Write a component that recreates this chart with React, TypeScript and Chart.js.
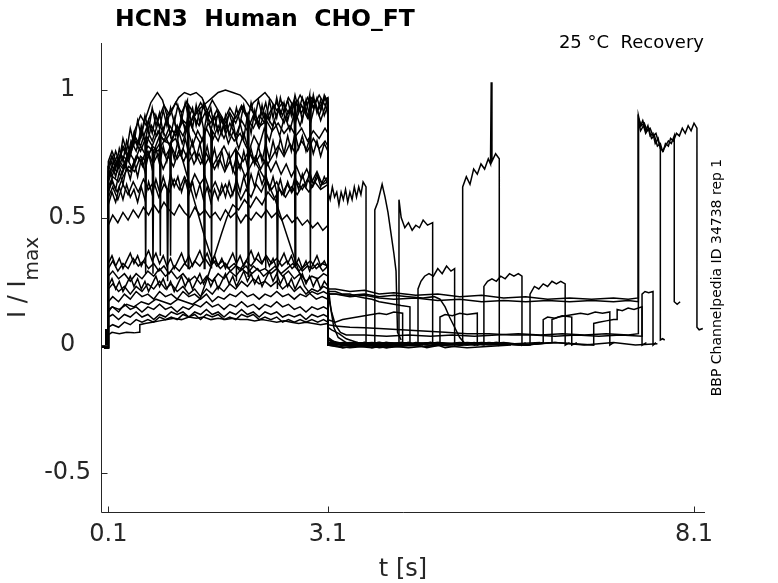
import React, { useEffect, useRef } from "react";
import { Chart, registerables } from "chart.js";

Chart.register(...registerables);

// ---- axis definitions ----
const xTicks = [0.1, 3.1, 8.1];
const yTicks = [-0.5, 0, 0.5, 1];
const xMin = 0;
const xMax = 8.25;
const yMin = -0.654;
const yMax = 1.184;

const titleText = "HCN3  Human  CHO_FT";
const noteText = "25 °C  Recovery";
const sideText = "BBP Channelpedia ID 34738 rep 1";
const xLabel = "t [s]";
const yLabelMain = "I / I";
const yLabelSub = "max";

// ---- common holding segment (t, I/Imax) ----
const holdT = [0, 0.06, 0.065, 0.07, 0.1];
const holdV = [-0.005, -0.01, 0.06, -0.01, -0.01];

// ---- sweeps: flat lists of t, I/Imax pairs ----
const sweep01 = [0.1,0.66, 0.15,0.7, 0.22,0.68, 0.3,0.74, 0.38,0.72, 0.45,0.8, 0.52,0.79, 0.6,0.88, 0.68,0.95, 0.77,0.99, 0.84,0.96, 0.9,0.9, 0.98,0.93, 1.06,0.97, 1.14,0.99, 1.22,0.98, 1.3,0.99, 1.38,0.97, 1.45,0.92, 1.52,0.88, 1.6,0.9, 1.68,0.86, 1.76,0.91, 1.84,0.87, 1.92,0.93, 2.0,0.89, 2.08,0.85, 2.16,0.9, 2.24,0.87, 2.32,0.92, 2.4,0.95, 2.48,0.9, 2.56,0.97, 2.64,0.93, 2.72,0.98, 2.8,0.94, 2.88,0.97, 2.96,0.92, 3.04,0.96, 3.1,0.97,
  3.1,0.02, 3.3,0.0, 3.5,0.01, 3.7,-0.01, 3.9,0.0, 4.1,0.01, 4.3,0.0, 4.5,0.01, 4.7,-0.01, 4.94,0.0, 4.94,0.62, 4.99,0.66, 5.04,0.63, 5.09,0.69, 5.14,0.67, 5.19,0.71, 5.24,0.69, 5.29,0.73, 5.32,0.71, 5.33,1.03, 5.34,0.72, 5.39,0.75, 5.44,0.73, 5.44,0.0, 5.5,0.01];

const sweep02 = [0.1,0.62, 0.16,0.66, 0.24,0.64, 0.32,0.7, 0.4,0.68, 0.48,0.74, 0.56,0.72, 0.64,0.78, 0.72,0.76, 0.8,0.82, 0.88,0.8, 0.96,0.84, 1.04,0.83, 1.12,0.88, 1.2,0.86, 1.28,0.9, 1.36,0.93, 1.44,0.95, 1.52,0.97, 1.6,0.99, 1.7,1.0, 1.8,0.99, 1.9,0.98, 1.97,0.96, 2.04,0.93, 2.1,0.9, 2.18,0.86, 2.26,0.88, 2.34,0.84, 2.42,0.87, 2.5,0.83, 2.58,0.86, 2.66,0.82, 2.74,0.85, 2.82,0.8, 2.9,0.84, 2.98,0.81, 3.06,0.85, 3.1,0.83,
  3.1,0.01, 3.3,0.0, 3.5,0.01, 3.7,0.0, 3.9,-0.01, 4.07,0.0, 4.07,0.57, 4.1,0.5, 4.15,0.46, 4.2,0.48, 4.25,0.45, 4.3,0.47, 4.35,0.46, 4.4,0.49, 4.46,0.47, 4.53,0.48, 4.53,0.0, 4.6,0.01];

const sweep03 = [0.1,0.68, 0.14,0.72, 0.2,0.66, 0.27,0.75, 0.34,0.7, 0.41,0.8, 0.48,0.76, 0.55,0.84, 0.62,0.78, 0.69,0.86, 0.76,0.82, 0.8,0.84, 0.81,0.35, 0.82,0.83, 0.9,0.88, 0.97,0.8, 1.04,0.86, 1.11,0.79, 1.18,0.85, 1.25,0.78, 1.32,0.84, 1.39,0.8, 1.46,0.87, 1.5,0.85, 1.51,0.3, 1.52,0.84, 1.6,0.8, 1.67,0.86, 1.74,0.79, 1.81,0.84, 1.88,0.77, 1.95,0.83, 2.02,0.76, 2.09,0.82, 2.16,0.78, 2.23,0.85, 2.3,0.8, 2.37,0.88, 2.44,0.82, 2.51,0.9, 2.58,0.84, 2.65,0.92, 2.72,0.86, 2.79,0.93, 2.86,0.87, 2.93,0.95, 3.0,0.88, 3.07,0.94, 3.1,0.9,
  3.1,0.03, 3.2,0.01, 3.4,0.0, 3.6,0.01, 3.74,0.0, 3.74,0.53, 3.78,0.56, 3.84,0.63, 3.88,0.58, 3.92,0.52, 3.96,0.44, 4.0,0.36, 4.03,0.29, 4.05,0.05, 4.1,0.02];

const sweep04 = [0.1,0.64, 0.15,0.68, 0.22,0.72, 0.29,0.67, 0.36,0.73, 0.43,0.69, 0.5,0.74, 0.57,0.7, 0.64,0.76, 0.71,0.71, 0.78,0.75, 0.85,0.69, 0.92,0.74, 0.99,0.7, 1.06,0.76, 1.13,0.72, 1.2,0.77, 1.27,0.71, 1.34,0.75, 1.41,0.7, 1.48,0.74, 1.55,0.69, 1.62,0.73, 1.69,0.68, 1.76,0.72, 1.83,0.67, 1.9,0.71, 1.97,0.66, 2.04,0.7, 2.11,0.74, 2.18,0.69, 2.25,0.73, 2.32,0.68, 2.39,0.72, 2.46,0.67, 2.53,0.71, 2.6,0.66, 2.67,0.7, 2.74,0.65, 2.81,0.69, 2.88,0.64, 2.95,0.68, 3.02,0.63, 3.1,0.66,
  3.1,0.6, 3.13,0.57, 3.16,0.62, 3.19,0.58, 3.22,0.6, 3.25,0.55, 3.28,0.6, 3.31,0.57, 3.34,0.61, 3.37,0.56, 3.4,0.6, 3.43,0.57, 3.46,0.62, 3.49,0.58, 3.52,0.62, 3.55,0.59, 3.58,0.64, 3.62,0.62, 3.62,0.0, 3.7,0.01];

const sweep05 = [0.1,0.58, 0.16,0.62, 0.23,0.57, 0.3,0.63, 0.37,0.59, 0.44,0.64, 0.51,0.6, 0.58,0.65, 0.65,0.61, 0.72,0.64, 0.79,0.58, 0.86,0.63, 0.93,0.6, 1.0,0.65, 1.07,0.61, 1.14,0.66, 1.21,0.62, 1.28,0.67, 1.35,0.63, 1.42,0.66, 1.49,0.6, 1.56,0.64, 1.63,0.59, 1.7,0.63, 1.77,0.58, 1.84,0.62, 1.91,0.57, 1.98,0.61, 2.05,0.58, 2.12,0.63, 2.19,0.6, 2.26,0.65, 2.33,0.61, 2.4,0.64, 2.47,0.59, 2.54,0.63, 2.61,0.6, 2.68,0.64, 2.75,0.61, 2.82,0.65, 2.89,0.62, 2.96,0.66, 3.03,0.63, 3.1,0.64,
  3.1,0.02, 3.3,0.0, 3.6,0.01, 3.9,0.0, 4.2,0.01, 4.33,0.0, 4.33,0.22, 4.37,0.25, 4.42,0.27, 4.48,0.28, 4.54,0.27, 4.6,0.3, 4.66,0.28, 4.72,0.31, 4.78,0.29, 4.83,0.3, 4.83,0.0, 4.9,0.01];

const sweep06 = [0.1,0.47, 0.16,0.51, 0.23,0.48, 0.3,0.52, 0.37,0.49, 0.44,0.53, 0.51,0.5, 0.58,0.54, 0.65,0.51, 0.72,0.55, 0.79,0.52, 0.86,0.56, 0.93,0.53, 1.0,0.51, 1.07,0.55, 1.14,0.52, 1.21,0.5, 1.28,0.54, 1.35,0.51, 1.42,0.53, 1.49,0.5, 1.56,0.52, 1.63,0.49, 1.7,0.53, 1.77,0.5, 1.84,0.52, 1.91,0.48, 1.98,0.51, 2.05,0.49, 2.12,0.52, 2.19,0.5, 2.26,0.53, 2.33,0.5, 2.4,0.52, 2.47,0.49, 2.54,0.51, 2.61,0.48, 2.68,0.5, 2.75,0.47, 2.82,0.49, 2.89,0.46, 2.96,0.48, 3.03,0.45, 3.1,0.47,
  3.1,0.01, 3.3,0.0, 3.6,0.01, 3.9,0.0, 4.2,0.01, 4.45,-0.01, 4.63,0.0, 4.63,0.11, 4.7,0.12, 4.8,0.115, 4.9,0.125, 5.0,0.12, 5.14,0.125, 5.14,0.0, 5.2,0.01];

const sweep07 = [0.1,0.6, 0.15,0.64, 0.22,0.6, 0.3,0.66, 0.38,0.7, 0.46,0.68, 0.54,0.74, 0.62,0.72, 0.7,0.78, 0.78,0.76, 0.86,0.8, 0.94,0.79, 1.02,0.81, 1.1,0.74, 1.18,0.66, 1.26,0.58, 1.34,0.5, 1.42,0.42, 1.5,0.35, 1.58,0.31, 1.66,0.33, 1.74,0.3, 1.82,0.32, 1.9,0.29, 1.98,0.31, 2.06,0.28, 2.14,0.3, 2.22,0.27, 2.3,0.29, 2.38,0.31, 2.46,0.28, 2.54,0.3, 2.62,0.32, 2.7,0.29, 2.78,0.31, 2.86,0.33, 2.94,0.3, 3.02,0.32, 3.1,0.31,
  3.1,0.24, 3.14,0.14, 3.18,0.07, 3.24,0.03, 3.35,0.01, 3.6,0.0, 3.9,0.01, 4.2,0.0, 4.5,0.01, 4.8,0.0, 5.1,0.01, 5.23,0.0, 5.23,0.23, 5.28,0.25, 5.34,0.26, 5.4,0.25, 5.46,0.27, 5.52,0.26, 5.58,0.28, 5.64,0.27, 5.7,0.28, 5.75,0.27, 5.75,0.0, 5.8,0.01];

const sweep08 = [0.1,0.13, 0.15,0.15, 0.25,0.14, 0.35,0.16, 0.45,0.15, 0.55,0.17, 0.65,0.16, 0.75,0.18, 0.85,0.17, 0.95,0.16, 1.05,0.18, 1.15,0.17, 1.25,0.16, 1.35,0.18, 1.45,0.26, 1.55,0.35, 1.65,0.44, 1.72,0.5, 1.8,0.55, 1.88,0.53, 1.96,0.57, 2.04,0.54, 2.12,0.58, 2.2,0.55, 2.28,0.6, 2.36,0.57, 2.44,0.61, 2.52,0.58, 2.6,0.62, 2.68,0.59, 2.76,0.63, 2.84,0.6, 2.92,0.64, 3.0,0.61, 3.1,0.63,
  3.1,0.01, 3.3,0.0, 3.7,0.01, 4.1,0.0, 4.5,0.01, 4.9,0.0, 5.3,0.01, 5.7,0.0, 5.86,0.0, 5.86,0.2, 5.92,0.23, 5.98,0.22, 6.04,0.24, 6.1,0.23, 6.16,0.25, 6.22,0.24, 6.28,0.25, 6.34,0.24, 6.34,0.0, 6.4,0.01];

const sweep09 = [0.1,0.7, 0.15,0.74, 0.22,0.7, 0.3,0.77, 0.38,0.73, 0.46,0.8, 0.54,0.76, 0.62,0.82, 0.7,0.78, 0.78,0.84, 0.86,0.8, 0.94,0.86, 1.02,0.82, 1.1,0.88, 1.18,0.84, 1.26,0.9, 1.34,0.86, 1.42,0.91, 1.5,0.87, 1.58,0.92, 1.66,0.88, 1.74,0.84, 1.82,0.8, 1.9,0.83, 1.98,0.78, 2.06,0.74, 2.14,0.7, 2.22,0.66, 2.3,0.62, 2.38,0.57, 2.46,0.5, 2.54,0.43, 2.62,0.36, 2.7,0.29, 2.78,0.23, 2.86,0.2, 2.94,0.18, 3.02,0.19, 3.1,0.18,
  3.1,0.02, 3.4,0.0, 3.8,0.01, 4.2,0.0, 4.6,0.01, 5.0,0.0, 5.4,0.01, 5.8,0.0, 6.16,0.01, 6.16,0.1, 6.25,0.11, 6.35,0.115, 6.45,0.12, 6.55,0.125, 6.65,0.12, 6.75,0.13, 6.85,0.125, 6.95,0.13, 6.95,0.0, 7.0,0.01];

const sweep10 = [0.1,0.3, 0.16,0.33, 0.23,0.29, 0.3,0.32, 0.37,0.3, 0.44,0.34, 0.51,0.31, 0.58,0.33, 0.65,0.3, 0.72,0.32, 0.79,0.29, 0.86,0.31, 0.93,0.28, 1.0,0.31, 1.07,0.29, 1.14,0.32, 1.21,0.3, 1.28,0.33, 1.35,0.31, 1.42,0.34, 1.49,0.31, 1.56,0.33, 1.63,0.3, 1.7,0.32, 1.77,0.29, 1.84,0.31, 1.91,0.3, 1.98,0.33, 2.05,0.31, 2.12,0.34, 2.19,0.32, 2.26,0.35, 2.33,0.32, 2.4,0.34, 2.47,0.31, 2.54,0.33, 2.61,0.3, 2.68,0.32, 2.75,0.29, 2.82,0.31, 2.89,0.3, 2.96,0.32, 3.03,0.29, 3.1,0.31,
  3.1,0.22, 3.2,0.22, 3.4,0.21, 3.6,0.215, 3.8,0.2, 4.0,0.205, 4.3,0.195, 4.6,0.2, 4.9,0.19, 5.2,0.195, 5.5,0.185, 5.8,0.19, 6.1,0.18, 6.4,0.185, 6.7,0.18, 7.0,0.185, 7.2,0.18, 7.34,0.185, 7.34,0.9, 7.37,0.86, 7.4,0.88, 7.44,0.84, 7.47,0.86, 7.5,0.82, 7.54,0.83, 7.57,0.79, 7.61,0.81, 7.64,0.77, 7.68,0.76, 7.71,0.79, 7.75,0.78, 7.78,0.81, 7.82,0.8, 7.86,0.83, 7.9,0.82, 7.94,0.85, 7.98,0.83, 8.02,0.86, 8.06,0.84, 8.1,0.87, 8.14,0.85, 8.14,0.07, 8.17,0.06, 8.22,0.065];

const sweep11 = [0.1,0.27, 0.16,0.29, 0.24,0.26, 0.32,0.28, 0.4,0.25, 0.48,0.28, 0.56,0.26, 0.64,0.29, 0.72,0.27, 0.8,0.3, 0.88,0.27, 0.96,0.29, 1.04,0.26, 1.12,0.28, 1.2,0.25, 1.28,0.27, 1.36,0.24, 1.44,0.27, 1.52,0.25, 1.6,0.28, 1.68,0.26, 1.76,0.29, 1.84,0.27, 1.92,0.3, 2.0,0.28, 2.08,0.31, 2.16,0.29, 2.24,0.3, 2.32,0.28, 2.4,0.3, 2.48,0.27, 2.56,0.29, 2.64,0.26, 2.72,0.28, 2.8,0.25, 2.88,0.27, 2.96,0.26, 3.04,0.28, 3.1,0.27,
  3.1,0.2, 3.2,0.2, 3.4,0.19, 3.6,0.195, 3.8,0.185, 4.0,0.18, 4.3,0.185, 4.6,0.175, 4.9,0.18, 5.2,0.17, 5.5,0.175, 5.8,0.17, 6.1,0.175, 6.4,0.17, 6.7,0.175, 7.0,0.17, 7.2,0.175, 7.34,0.17, 7.34,0.88, 7.37,0.84, 7.41,0.86, 7.44,0.83, 7.48,0.85, 7.52,0.81, 7.56,0.82, 7.6,0.78, 7.64,0.79, 7.67,0.76, 7.71,0.78, 7.75,0.8, 7.79,0.79, 7.83,0.82, 7.83,0.17, 7.87,0.16, 7.91,0.17];

const sweep12 = [0.1,0.22, 0.16,0.24, 0.24,0.21, 0.32,0.23, 0.4,0.2, 0.48,0.23, 0.56,0.21, 0.64,0.24, 0.72,0.22, 0.8,0.25, 0.88,0.22, 0.96,0.24, 1.04,0.21, 1.12,0.23, 1.2,0.2, 1.28,0.22, 1.36,0.19, 1.44,0.22, 1.52,0.2, 1.6,0.23, 1.68,0.21, 1.76,0.24, 1.84,0.22, 1.92,0.25, 2.0,0.23, 2.08,0.26, 2.16,0.24, 2.24,0.25, 2.32,0.23, 2.4,0.25, 2.48,0.22, 2.56,0.24, 2.64,0.21, 2.72,0.23, 2.8,0.2, 2.88,0.22, 2.96,0.21, 3.04,0.23, 3.1,0.22,
  3.1,0.2, 3.15,0.13, 3.2,0.08, 3.27,0.05, 3.35,0.04, 3.6,0.04, 3.9,0.035, 4.2,0.04, 4.5,0.035, 4.8,0.04, 5.1,0.035, 5.4,0.04, 5.7,0.045, 6.0,0.04, 6.3,0.045, 6.6,0.04, 6.9,0.045, 7.2,0.04, 7.34,0.045, 7.34,0.89, 7.38,0.86, 7.42,0.87, 7.46,0.84, 7.5,0.85, 7.54,0.82, 7.58,0.83, 7.61,0.8, 7.64,0.78, 7.64,0.02, 7.67,0.025, 7.7,0.02];

const sweep13 = [0.1,0.17, 0.16,0.19, 0.24,0.17, 0.32,0.2, 0.4,0.18, 0.48,0.21, 0.56,0.19, 0.64,0.2, 0.72,0.18, 0.8,0.21, 0.88,0.19, 0.96,0.2, 1.04,0.18, 1.12,0.21, 1.2,0.19, 1.28,0.2, 1.36,0.18, 1.44,0.2, 1.52,0.17, 1.6,0.19, 1.68,0.18, 1.76,0.2, 1.84,0.19, 1.92,0.21, 2.0,0.19, 2.08,0.2, 2.16,0.18, 2.24,0.2, 2.32,0.19, 2.4,0.21, 2.48,0.19, 2.56,0.2, 2.64,0.18, 2.72,0.2, 2.8,0.19, 2.88,0.21, 2.96,0.2, 3.04,0.21, 3.1,0.2,
  3.1,0.21, 3.2,0.21, 3.3,0.2, 3.4,0.2, 3.5,0.19, 3.6,0.185, 3.7,0.18, 3.8,0.17, 3.9,0.165, 4.0,0.16, 4.1,0.155, 4.22,0.15, 4.22,0.0, 4.3,0.01];

const sweep14 = [0.1,0.14, 0.16,0.15, 0.24,0.13, 0.32,0.16, 0.4,0.14, 0.48,0.15, 0.56,0.13, 0.64,0.15, 0.72,0.14, 0.8,0.16, 0.88,0.14, 0.96,0.15, 1.04,0.13, 1.12,0.15, 1.2,0.14, 1.28,0.16, 1.36,0.15, 1.44,0.17, 1.52,0.15, 1.6,0.16, 1.68,0.14, 1.76,0.16, 1.84,0.15, 1.92,0.17, 2.0,0.15, 2.08,0.16, 2.16,0.14, 2.24,0.16, 2.32,0.15, 2.4,0.17, 2.48,0.15, 2.56,0.16, 2.64,0.14, 2.72,0.15, 2.8,0.13, 2.88,0.15, 2.96,0.14, 3.04,0.15, 3.1,0.14,
  3.1,0.2, 3.2,0.2, 3.4,0.195, 3.6,0.2, 3.8,0.19, 4.0,0.195, 4.2,0.19, 4.4,0.185, 4.55,0.19, 4.63,0.18, 4.7,0.15, 4.76,0.11, 4.83,0.07, 4.9,0.03, 4.96,0.01, 5.1,0.0, 5.5,0.01, 5.8,0.0, 6.04,0.01, 6.04,0.1, 6.1,0.11, 6.2,0.105, 6.3,0.115, 6.43,0.11, 6.43,0.0, 6.5,0.01];

const sweep15 = [0.1,0.11, 0.16,0.12, 0.24,0.1, 0.32,0.12, 0.4,0.11, 0.48,0.13, 0.56,0.11, 0.64,0.12, 0.72,0.1, 0.8,0.12, 0.88,0.11, 0.96,0.13, 1.04,0.12, 1.12,0.13, 1.2,0.11, 1.28,0.13, 1.36,0.12, 1.44,0.14, 1.52,0.12, 1.6,0.13, 1.68,0.11, 1.76,0.13, 1.84,0.12, 1.92,0.14, 2.0,0.12, 2.08,0.13, 2.16,0.11, 2.24,0.13, 2.32,0.12, 2.4,0.13, 2.48,0.11, 2.56,0.12, 2.64,0.11, 2.72,0.12, 2.8,0.1, 2.88,0.12, 2.96,0.11, 3.04,0.12, 3.1,0.11,
  3.1,0.1, 3.2,0.09, 3.3,0.1, 3.4,0.105, 3.5,0.11, 3.6,0.115, 3.7,0.12, 3.8,0.125, 3.9,0.12, 4.0,0.13, 4.12,0.125, 4.12,0.0, 4.3,0.01, 4.7,0.0, 5.2,0.01, 5.7,0.0, 6.2,0.01, 6.73,0.0, 6.73,0.085, 6.8,0.09, 6.9,0.095, 7.0,0.1, 7.05,0.1, 7.05,0.14, 7.12,0.135, 7.2,0.145, 7.28,0.14, 7.39,0.15, 7.39,0.0, 7.45,0.01];

const sweep16 = [0.1,0.07, 0.16,0.08, 0.24,0.07, 0.32,0.09, 0.4,0.08, 0.48,0.1, 0.56,0.09, 0.64,0.1, 0.72,0.09, 0.8,0.11, 0.88,0.1, 0.96,0.11, 1.04,0.1, 1.12,0.12, 1.2,0.11, 1.28,0.12, 1.36,0.1, 1.44,0.12, 1.52,0.11, 1.6,0.12, 1.68,0.1, 1.76,0.11, 1.84,0.1, 1.92,0.12, 2.0,0.11, 2.08,0.12, 2.16,0.1, 2.24,0.11, 2.32,0.1, 2.4,0.11, 2.48,0.09, 2.56,0.1, 2.64,0.09, 2.72,0.1, 2.8,0.09, 2.88,0.1, 2.96,0.09, 3.04,0.1, 3.1,0.09,
  3.1,0.08, 3.2,0.075, 3.4,0.07, 3.6,0.068, 3.8,0.065, 4.1,0.06, 4.4,0.055, 4.7,0.05, 5.0,0.045, 5.3,0.045, 5.6,0.04, 5.9,0.04, 6.2,0.035, 6.5,0.04, 6.8,0.035, 7.1,0.04, 7.39,0.035, 7.39,0.2, 7.43,0.21, 7.48,0.205, 7.54,0.21, 7.54,0.0, 7.58,0.01];

const sweep17 = [0.1,0.04, 0.15,0.05, 0.25,0.045, 0.35,0.05, 0.45,0.048, 0.52,0.05, 0.53,0.08, 0.6,0.085, 0.7,0.09, 0.8,0.095, 0.9,0.1, 1.0,0.105, 1.1,0.1, 1.2,0.11, 1.3,0.105, 1.4,0.11, 1.5,0.1, 1.6,0.105, 1.7,0.1, 1.8,0.105, 1.9,0.1, 2.0,0.1, 2.1,0.095, 2.2,0.1, 2.3,0.095, 2.4,0.09, 2.5,0.095, 2.6,0.09, 2.7,0.085, 2.8,0.09, 2.9,0.085, 3.0,0.08, 3.1,0.085,
  3.1,0.07, 3.15,0.06, 3.25,0.045, 3.35,0.025, 3.5,0.01, 3.8,-0.01, 4.1,0.0, 4.4,-0.005, 4.7,0.0, 5.0,0.01, 5.5,0.0];

const sweep18 = [0.1,0.72, 0.15,0.76, 0.22,0.71, 0.3,0.78, 0.38,0.74, 0.46,0.82, 0.54,0.78, 0.62,0.85, 0.7,0.8, 0.78,0.87, 0.86,0.83, 0.94,0.78, 0.95,0.35, 0.96,0.8, 1.04,0.86, 1.12,0.82, 1.2,0.88, 1.28,0.83, 1.36,0.79, 1.44,0.85, 1.52,0.8, 1.6,0.86, 1.68,0.81, 1.76,0.87, 1.84,0.82, 1.92,0.88, 2.0,0.84, 2.08,0.9, 2.16,0.85, 2.24,0.91, 2.25,0.3, 2.26,0.9, 2.34,0.86, 2.42,0.92, 2.5,0.87, 2.58,0.93, 2.66,0.88, 2.74,0.94, 2.82,0.89, 2.9,0.96, 2.98,0.9, 3.06,0.97, 3.1,0.93,
  3.1,0.0, 3.4,-0.01, 3.8,0.0, 4.2,-0.01, 4.6,0.0, 5.0,-0.01, 5.6,0.0];

const sweep19 = [0.1,0.66, 0.15,0.7, 0.22,0.74, 0.3,0.7, 0.38,0.76, 0.46,0.72, 0.54,0.78, 0.62,0.74, 0.7,0.77, 0.71,0.28, 0.72,0.75, 0.8,0.79, 0.88,0.74, 0.96,0.78, 1.04,0.73, 1.12,0.77, 1.2,0.72, 1.28,0.76, 1.36,0.71, 1.44,0.75, 1.52,0.7, 1.6,0.74, 1.68,0.78, 1.76,0.73, 1.84,0.77, 1.85,0.25, 1.86,0.76, 1.94,0.72, 2.02,0.76, 2.1,0.71, 2.18,0.75, 2.26,0.7, 2.34,0.74, 2.42,0.78, 2.5,0.74, 2.58,0.79, 2.66,0.75, 2.74,0.8, 2.82,0.76, 2.9,0.81, 2.98,0.77, 3.06,0.8, 3.1,0.78,
  3.1,0.01, 3.4,0.0, 3.8,0.01, 4.2,0.0, 4.6,0.01, 5.0,0.0, 5.4,0.01, 5.8,0.0, 6.2,0.01, 6.6,0.0, 7.0,0.01, 7.3,0.0, 7.6,0.005];

const sweep20 = [0.1,0.69, 0.15,0.66, 0.22,0.72, 0.3,0.69, 0.38,0.75, 0.46,0.84, 0.54,0.9, 0.62,0.86, 0.7,0.92, 0.78,0.88, 0.86,0.94, 0.94,0.9, 1.02,0.95, 1.1,0.91, 1.18,0.96, 1.19,0.3, 1.2,0.94, 1.28,0.9, 1.36,0.95, 1.44,0.91, 1.52,0.96, 1.6,0.92, 1.68,0.88, 1.76,0.93, 1.84,0.89, 1.92,0.94, 2.0,0.9, 2.08,0.95, 2.16,0.97, 2.24,0.99, 2.32,0.96, 2.4,0.92, 2.48,0.95, 2.56,0.91, 2.64,0.96, 2.65,0.32, 2.66,0.95, 2.74,0.91, 2.82,0.97, 2.9,0.93, 2.98,0.98, 3.06,0.94, 3.1,0.96,
  3.1,0.0, 3.3,0.01, 3.7,0.0, 4.1,0.01, 4.5,0.0, 4.9,0.01, 5.3,0.0, 6.0,0.01];

const sweep21 = [0.1,0.7, 0.15,0.74, 0.2,0.69, 0.25,0.77, 0.3,0.72, 0.35,0.8, 0.4,0.75, 0.45,0.83, 0.5,0.78, 0.55,0.86, 0.6,0.8, 0.61,0.28, 0.62,0.82, 0.65,0.88, 0.7,0.83, 0.75,0.9, 0.8,0.85, 0.85,0.92, 0.9,0.86, 0.95,0.93, 1.0,0.87, 1.05,0.94, 1.1,0.88, 1.15,0.95, 1.2,0.89, 1.25,0.93, 1.3,0.86, 1.35,0.92, 1.4,0.85, 1.41,0.3, 1.42,0.86, 1.45,0.91, 1.5,0.84, 1.55,0.9, 1.6,0.83, 1.65,0.89, 1.7,0.84, 1.75,0.91, 1.8,0.86, 1.85,0.93, 1.9,0.87, 1.95,0.94, 2.0,0.88, 2.01,0.27, 2.02,0.9, 2.05,0.95, 2.1,0.89, 2.15,0.96, 2.2,0.9, 2.25,0.95, 2.3,0.88, 2.35,0.94, 2.4,0.89, 2.45,0.97, 2.5,0.91, 2.55,0.96, 2.6,0.9, 2.65,0.98, 2.7,0.92, 2.75,0.97, 2.8,0.91, 2.85,0.98, 2.86,0.3, 2.87,0.96, 2.9,0.93, 2.95,0.97, 3.0,0.92, 3.05,0.98, 3.1,0.95,
  3.1,0.0, 3.3,-0.01, 3.6,0.0, 3.9,-0.01, 4.3,0.0];

const sweep22 = [0.1,0.55, 0.15,0.6, 0.2,0.56, 0.25,0.62, 0.3,0.57, 0.35,0.63, 0.4,0.58, 0.45,0.61, 0.5,0.56, 0.55,0.62, 0.6,0.57, 0.65,0.64, 0.7,0.59, 0.75,0.65, 0.8,0.6, 0.85,0.66, 0.9,0.61, 0.91,0.25, 0.92,0.62, 0.95,0.67, 1.0,0.62, 1.05,0.66, 1.1,0.6, 1.15,0.65, 1.2,0.59, 1.25,0.64, 1.3,0.58, 1.35,0.63, 1.4,0.57, 1.45,0.62, 1.5,0.56, 1.55,0.61, 1.6,0.57, 1.65,0.63, 1.7,0.58, 1.75,0.64, 1.8,0.59, 1.85,0.65, 1.9,0.6, 1.95,0.66, 2.0,0.61, 2.05,0.67, 2.1,0.62, 2.15,0.68, 2.2,0.63, 2.25,0.67, 2.3,0.61, 2.35,0.66, 2.4,0.6, 2.41,0.22, 2.42,0.62, 2.45,0.65, 2.5,0.59, 2.55,0.64, 2.6,0.6, 2.65,0.66, 2.7,0.61, 2.75,0.67, 2.8,0.62, 2.85,0.68, 2.9,0.63, 2.95,0.67, 3.0,0.62, 3.05,0.66, 3.1,0.63,
  3.1,0.01, 3.4,0.0, 3.8,0.01, 4.1,0.0];

const sweep23 = [0.1,0.32, 0.15,0.35, 0.2,0.31, 0.25,0.34, 0.3,0.3, 0.35,0.33, 0.4,0.36, 0.45,0.32, 0.5,0.35, 0.55,0.31, 0.6,0.34, 0.65,0.37, 0.7,0.33, 0.75,0.36, 0.8,0.32, 0.85,0.35, 0.9,0.31, 0.95,0.34, 1.0,0.3, 1.05,0.33, 1.1,0.36, 1.15,0.32, 1.2,0.35, 1.25,0.31, 1.3,0.34, 1.35,0.37, 1.4,0.33, 1.45,0.36, 1.5,0.32, 1.55,0.35, 1.6,0.31, 1.65,0.34, 1.7,0.3, 1.75,0.33, 1.8,0.36, 1.85,0.32, 1.9,0.35, 1.95,0.31, 2.0,0.34, 2.05,0.37, 2.1,0.33, 2.15,0.36, 2.2,0.32, 2.25,0.35, 2.3,0.31, 2.35,0.34, 2.4,0.3, 2.45,0.33, 2.5,0.36, 2.55,0.32, 2.6,0.35, 2.65,0.31, 2.7,0.34, 2.75,0.3, 2.8,0.33, 2.85,0.29, 2.9,0.32, 2.95,0.35, 3.0,0.31, 3.05,0.33, 3.1,0.3,
  3.1,0.02, 3.3,0.0, 3.7,-0.01, 4.0,0.0];

const sweep24 = [0.1,0.23, 0.15,0.26, 0.2,0.22, 0.25,0.25, 0.3,0.21, 0.35,0.24, 0.4,0.27, 0.45,0.23, 0.5,0.26, 0.55,0.22, 0.6,0.25, 0.65,0.21, 0.7,0.24, 0.75,0.27, 0.8,0.23, 0.85,0.26, 0.9,0.22, 0.95,0.25, 1.0,0.21, 1.05,0.24, 1.1,0.27, 1.15,0.23, 1.2,0.26, 1.25,0.22, 1.3,0.25, 1.35,0.28, 1.4,0.24, 1.45,0.27, 1.5,0.23, 1.55,0.26, 1.6,0.22, 1.65,0.25, 1.7,0.28, 1.75,0.24, 1.8,0.27, 1.85,0.23, 1.9,0.26, 1.95,0.29, 2.0,0.25, 2.05,0.28, 2.1,0.24, 2.15,0.27, 2.2,0.23, 2.25,0.26, 2.3,0.29, 2.35,0.25, 2.4,0.28, 2.45,0.24, 2.5,0.27, 2.55,0.23, 2.6,0.26, 2.65,0.22, 2.7,0.25, 2.75,0.28, 2.8,0.24, 2.85,0.27, 2.9,0.23, 2.95,0.26, 3.0,0.22, 3.05,0.25, 3.1,0.23,
  3.1,0.01, 3.3,-0.01, 3.6,0.0, 3.9,0.01, 4.4,0.0];

const sweep25 = [0.1,0.65, 0.15,0.7, 0.2,0.76, 0.25,0.72, 0.3,0.81, 0.35,0.76, 0.4,0.85, 0.45,0.79, 0.5,0.88, 0.55,0.82, 0.6,0.9, 0.65,0.84, 0.7,0.93, 0.75,0.86, 0.8,0.91, 0.85,0.83, 0.9,0.9, 0.95,0.82, 1.0,0.89, 1.05,0.81, 1.1,0.9, 1.15,0.84, 1.2,0.92, 1.25,0.85, 1.3,0.94, 1.35,0.87, 1.4,0.95, 1.45,0.88, 1.5,0.93, 1.55,0.85, 1.6,0.91, 1.65,0.83, 1.7,0.9, 1.75,0.82, 1.8,0.88, 1.85,0.8, 1.9,0.87, 1.95,0.81, 2.0,0.9, 2.05,0.83, 2.1,0.92, 2.15,0.86, 2.2,0.94, 2.25,0.87, 2.3,0.96, 2.35,0.89, 2.4,0.97, 2.45,0.9, 2.5,0.95, 2.55,0.88, 2.6,0.94, 2.65,0.86, 2.7,0.95, 2.75,0.88, 2.8,0.96, 2.85,0.9, 2.9,0.98, 2.95,0.91, 3.0,0.96, 3.05,0.9, 3.1,0.94,
  3.1,0.0, 3.4,0.01, 3.8,0.0];

const sweep26 = [0.1,0.6, 0.15,0.65, 0.2,0.61, 0.25,0.68, 0.3,0.63, 0.35,0.7, 0.4,0.65, 0.45,0.72, 0.5,0.66, 0.55,0.73, 0.6,0.68, 0.65,0.75, 0.7,0.69, 0.75,0.77, 0.8,0.71, 0.85,0.78, 0.9,0.72, 0.95,0.79, 1.0,0.73, 1.05,0.8, 1.1,0.74, 1.15,0.81, 1.2,0.75, 1.25,0.8, 1.3,0.73, 1.35,0.79, 1.4,0.72, 1.45,0.78, 1.5,0.71, 1.55,0.77, 1.6,0.7, 1.65,0.76, 1.7,0.69, 1.75,0.75, 1.8,0.68, 1.85,0.74, 1.9,0.69, 1.95,0.76, 2.0,0.7, 2.05,0.77, 2.1,0.71, 2.15,0.78, 2.2,0.72, 2.25,0.79, 2.3,0.73, 2.35,0.8, 2.4,0.74, 2.45,0.81, 2.5,0.75, 2.55,0.82, 2.6,0.76, 2.65,0.83, 2.7,0.77, 2.75,0.82, 2.8,0.76, 2.85,0.81, 2.9,0.75, 2.95,0.8, 3.0,0.74, 3.05,0.79, 3.1,0.76,
  3.1,0.01, 3.5,0.0, 3.9,0.01];

const sweeps = [sweep01, sweep02, sweep03, sweep04, sweep05, sweep06, sweep07, sweep08, sweep09, sweep10,
  sweep11, sweep12, sweep13, sweep14, sweep15, sweep16, sweep17, sweep18, sweep19, sweep20,
  sweep21, sweep22, sweep23, sweep24, sweep25, sweep26];

const FONT = '"DejaVu Sans", "Liberation Sans", sans-serif';
const AXIS_COLOR = "#262626";

function toPoints(flat: number[]) {
  const pts = holdT.map((t, i) => ({ x: t, y: holdV[i] }));
  for (let i = 0; i + 1 < flat.length; i += 2) pts.push({ x: flat[i], y: flat[i + 1] });
  return pts;
}

const decorPlugin = {
  id: "decor",
  afterDraw(chart: any) {
    const { ctx, chartArea: ca, scales } = chart;
    const xs = scales.x;
    const ys = scales.y;
    ctx.save();
    ctx.strokeStyle = AXIS_COLOR;
    ctx.lineWidth = 1;
    const L = Math.round(ca.left) + 0.5;
    const B = Math.round(ca.bottom) + 0.5;
    ctx.beginPath();
    ctx.moveTo(L, ca.top);
    ctx.lineTo(L, B);
    ctx.lineTo(ca.right, B);
    for (const v of yTicks) {
      const p = Math.round(ys.getPixelForValue(v)) + 0.5;
      ctx.moveTo(L, p);
      ctx.lineTo(L + 6, p);
    }
    for (const v of xTicks) {
      const p = Math.round(xs.getPixelForValue(v)) + 0.5;
      ctx.moveTo(p, B);
      ctx.lineTo(p, B - 6);
    }
    ctx.stroke();

    const midY = (ca.top + ca.bottom) / 2;
    const midX = (ca.left + ca.right) / 2;

    ctx.fillStyle = "#000";
    ctx.textBaseline = "alphabetic";
    ctx.textAlign = "left";
    ctx.font = `bold 23.5px ${FONT}`;
    ctx.fillText(titleText, ca.left + 14, 26);

    ctx.font = `18px ${FONT}`;
    ctx.textAlign = "right";
    ctx.fillText(noteText, ca.right - 1, 48);

    ctx.fillStyle = AXIS_COLOR;
    ctx.font = `24px ${FONT}`;
    ctx.textAlign = "center";
    ctx.fillText(xLabel, midX, 576);

    ctx.save();
    ctx.translate(25, midY);
    ctx.rotate(-Math.PI / 2);
    ctx.font = `24px ${FONT}`;
    const w1 = ctx.measureText(yLabelMain).width;
    ctx.font = `20px ${FONT}`;
    const w2 = ctx.measureText(yLabelSub).width;
    const start = -(w1 + w2) / 2;
    ctx.textAlign = "left";
    ctx.font = `24px ${FONT}`;
    ctx.fillText(yLabelMain, start, 0);
    ctx.font = `20px ${FONT}`;
    ctx.fillText(yLabelSub, start + w1, 13);
    ctx.restore();

    ctx.save();
    ctx.fillStyle = "#000";
    ctx.translate(721, midY);
    ctx.rotate(-Math.PI / 2);
    ctx.font = `14px ${FONT}`;
    ctx.textAlign = "center";
    ctx.fillText(sideText, 0, 0);
    ctx.restore();

    ctx.restore();
  },
};

export default function App() {
  const ref = useRef<HTMLCanvasElement | null>(null);
  useEffect(() => {
    const canvas = ref.current;
    if (!canvas) return;
    const chart = new Chart(canvas, {
      type: "line",
      data: {
        datasets: sweeps.map((s, i) => ({
          label: `sweep ${i + 1}`,
          data: toPoints(s),
          borderColor: "#000000",
          borderWidth: 1.5,
          pointRadius: 0,
          tension: 0,
          fill: false,
        })),
      },
      options: {
        responsive: false,
        animation: false,
        events: [],
        layout: { padding: { top: 43, right: 73, left: 0, bottom: 0 } },
        plugins: {
          legend: { display: false },
          tooltip: { enabled: false },
          title: { display: false },
        },
        scales: {
          x: {
            type: "linear",
            min: xMin,
            max: xMax,
            grid: { display: false, drawTicks: false },
            border: { display: false },
            afterBuildTicks: (s: any) => {
              s.ticks = xTicks.map((v) => ({ value: v }));
            },
            afterFit: (s: any) => {
              s.height = 71;
            },
            ticks: {
              font: { family: FONT, size: 24 },
              color: AXIS_COLOR,
              padding: 8,
              maxRotation: 0,
              autoSkip: false,
              callback: (v: any) => String(v),
            },
          },
          y: {
            type: "linear",
            min: yMin,
            max: yMax,
            grid: { display: false, drawTicks: false },
            border: { display: false },
            afterBuildTicks: (s: any) => {
              s.ticks = yTicks.map((v) => ({ value: v }));
            },
            afterFit: (s: any) => {
              s.width = 101;
            },
            ticks: {
              font: { family: FONT, size: 24 },
              color: AXIS_COLOR,
              padding: 10,
              crossAlign: "center",
              autoSkip: false,
              callback: (v: any) => String(v),
            },
          },
        },
      },
      plugins: [decorPlugin],
    } as any);
    return () => chart.destroy();
  }, []);

  return (
    <div style={{ position: "absolute", left: 0, top: 0, width: 778, height: 583, background: "#fff" }}>
      <canvas ref={ref} width={778} height={583} style={{ width: 778, height: 583, display: "block" }} />
    </div>
  );
}
